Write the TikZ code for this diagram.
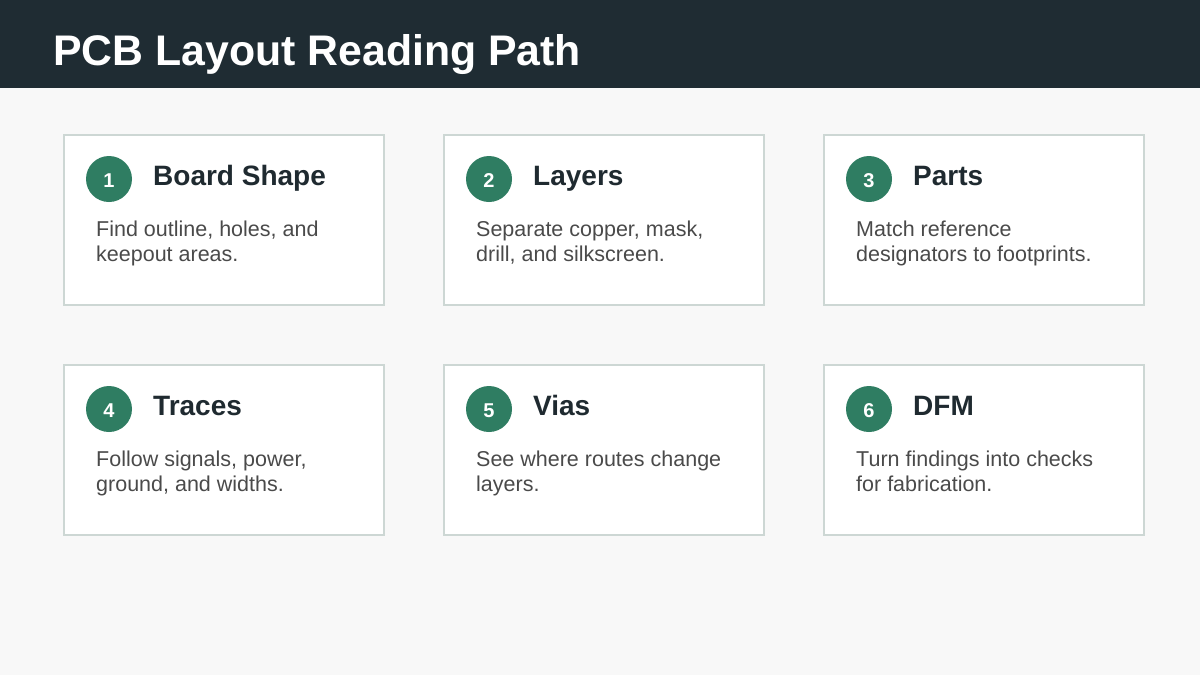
\documentclass[tikz,border=0pt]{standalone}
\usepackage{fontspec}
\setmainfont{Liberation Sans}
\definecolor{hdr}{HTML}{1F2C33}
\definecolor{bgc}{HTML}{F8F8F8}
\definecolor{grn}{HTML}{2F7D62}
\definecolor{ttl}{HTML}{1F2A30}
\definecolor{bdy}{HTML}{4A4A4A}
\definecolor{brd}{HTML}{CDD7D4}
\tikzset{
  card/.style={draw=brd, line width=1.6pt, fill=white},
  badge/.style={circle, fill=grn, minimum size=46pt, inner sep=0pt},
  bnum/.style={inner sep=0pt, text=white, font=\fontsize{20}{20}\selectfont\bfseries},
  ctitle/.style={anchor=base west, inner sep=0pt, text=ttl, font=\fontsize{28}{28}\selectfont\bfseries},
  cbody/.style={anchor=base west, inner sep=0pt, text=bdy, align=left, font=\fontsize{21.5}{25}\selectfont}
}
\begin{document}
\begin{tikzpicture}[x=1pt,y=-1pt]
\useasboundingbox (0,0) rectangle (1200,675);
\fill[bgc] (0,0) rectangle (1200,675);
\fill[hdr] (0,0) rectangle (1200,88);
\node[anchor=base west, inner sep=0pt, text=white, font=\fontsize{42.8}{42.8}\selectfont\bfseries] (title) at (53,65) {PCB Layout Reading Path};
\foreach \i/\x/\y/\t/\a/\b in {
  1/64/135/Board Shape/{Find outline, holes, and}/{keepout areas.},
  2/444/135/Layers/{Separate copper, mask,}/{drill, and silkscreen.},
  3/824/135/Parts/{Match reference}/{designators to footprints.},
  4/64/365/Traces/{Follow signals, power,}/{ground, and widths.},
  5/444/365/Vias/{See where routes change}/{layers.},
  6/824/365/DFM/{Turn findings into checks}/{for fabrication.}} {
  \draw[card] (\x,\y) rectangle ++(320,170);
  \node[badge] (b\i) at (\x+45,\y+44) {};
  \node[bnum, yshift=-1.5pt] (n\i) at (b\i.center) {\i};
  \node[ctitle] (t\i) at (\x+89,\y+50) {\t};
  \node[cbody] (d\i) at (\x+32,\y+126) {\a\\\b};
}
\end{tikzpicture}
\end{document}
